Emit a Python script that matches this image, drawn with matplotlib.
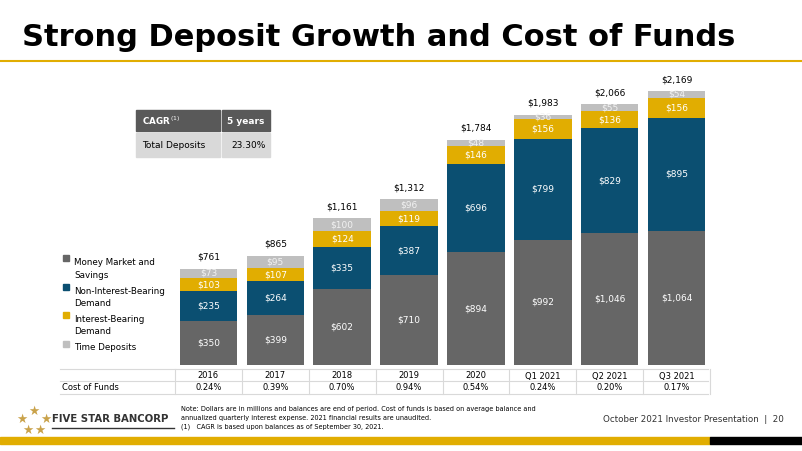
import matplotlib
matplotlib.use("Agg")
import matplotlib.pyplot as plt
from matplotlib.patches import Rectangle
from matplotlib.lines import Line2D

periods = ["2016", "2017", "2018", "2019", "2020", "Q1 2021", "Q2 2021", "Q3 2021"]
money_market = [350, 399, 602, 710, 894, 992, 1046, 1064]
non_interest = [235, 264, 335, 387, 696, 799, 829, 895]
interest_bearing = [103, 107, 124, 119, 146, 156, 136, 156]
time_deposits = [73, 95, 100, 96, 48, 36, 55, 54]
totals = ["$761", "$865", "$1,161", "$1,312", "$1,784", "$1,983", "$2,066", "$2,169"]
cost_of_funds = ["0.24%", "0.39%", "0.70%", "0.94%", "0.54%", "0.24%", "0.20%", "0.17%"]
series_names = ["Money Market and\nSavings", "Non-Interest-Bearing\nDemand",
                "Interest-Bearing\nDemand", "Time Deposits"]
colors = ["#666666", "#0B4F71", "#E1AD01", "#BFBFBF"]

W, H = 803, 451
fig = plt.figure(figsize=(W / 100, H / 100), dpi=100)
plt.rcParams["font.family"] = "DejaVu Sans"

def px(x0, y0, x1, y1):
    return [x0 / W, 1 - y1 / H, (x1 - x0) / W, (y1 - y0) / H]

# title and rules
fig.text(22 / W, 1 - 38 / H, "Strong Deposit Growth and Cost of Funds", fontsize=22,
         fontweight="bold", color="black", va="center")
fig.add_artist(Line2D([0, 1], [1 - 61 / H] * 2, color="#E1AD01", lw=1.5))
fig.add_artist(Rectangle((0, 1 - 444 / H), 710 / W, 7 / H, color="#E1AD01", transform=fig.transFigure))
fig.add_artist(Rectangle((710 / W, 1 - 444 / H), 93 / W, 7 / H, color="black", transform=fig.transFigure))

ax = fig.add_axes(px(175, 75, 710, 365))
x = range(len(periods))
bottom = [0] * len(periods)
for vals, c in zip([money_market, non_interest, interest_bearing, time_deposits], colors):
    ax.bar(x, vals, bottom=bottom, width=0.86, color=c)
    for i, v in enumerate(vals):
        ax.text(i, bottom[i] + v / 2, f"${v:,}", ha="center", va="center",
                fontsize=6.5, color="white" if c != "#BFBFBF" else "#F2F2F2")
    bottom = [b + v for b, v in zip(bottom, vals)]
for i, t in enumerate(totals):
    ax.text(i, bottom[i] + 55, t, ha="center", va="bottom", fontsize=6.5)
ax.set_xlim(-0.5, 7.5)
ax.set_ylim(0, 2296)
ax.axis("off")

# legend
for k, (name, c) in enumerate(zip(series_names, colors)):
    y = 258 + k * 28.5
    fig.add_artist(Rectangle((63 / W, 1 - (y + 3) / H), 6 / W, 6 / H, color=c, transform=fig.transFigure))
    fig.text(74 / W, 1 - y / H, name, fontsize=6.3, va="top", linespacing=1.5)

# CAGR table
fig.add_artist(Rectangle((136 / W, 1 - 131 / H), 84 / W, 21 / H, color="#595959", transform=fig.transFigure))
fig.add_artist(Rectangle((222 / W, 1 - 131 / H), 48 / W, 21 / H, color="#595959", transform=fig.transFigure))
fig.add_artist(Rectangle((136 / W, 1 - 157 / H), 84 / W, 24 / H, color="#D9D9D9", transform=fig.transFigure))
fig.add_artist(Rectangle((222 / W, 1 - 157 / H), 48 / W, 24 / H, color="#D9D9D9", transform=fig.transFigure))
fig.text(142 / W, 1 - 121 / H, r"CAGR$^{\,(1)}$", fontsize=6.3, color="white", fontweight="bold", va="center")
fig.text(227 / W, 1 - 121 / H, "5 years", fontsize=6.5, color="white", fontweight="bold", va="center")
fig.text(142 / W, 1 - 145 / H, "Total Deposits", fontsize=6.5, va="center")
fig.text(266 / W, 1 - 145 / H, "23.30%", fontsize=6.5, va="center", ha="right")

# cost of funds table
for yy in [369, 381, 394]:
    fig.add_artist(Line2D([60 / W, 708 / W], [1 - yy / H] * 2, color="#D9D9D9", lw=0.8))
for i in range(9):
    xx = 175 + i * 66.9
    fig.add_artist(Line2D([xx / W] * 2, [1 - 369 / H, 1 - 394 / H], color="#D9D9D9", lw=0.8))
fig.text(62 / W, 1 - 388 / H, "Cost of Funds", fontsize=6, va="center")
for i, (p, c) in enumerate(zip(periods, cost_of_funds)):
    xx = (175 + (i + 0.5) * 66.9) / W
    fig.text(xx, 1 - 376 / H, p, fontsize=6, ha="center", va="center")
    fig.text(xx, 1 - 388 / H, c, fontsize=6, ha="center", va="center")

# footer
for sx, sy in [(34, 411), (22, 419), (46, 419), (28, 430), (40, 430)]:
    fig.text(sx / W, 1 - sy / H, "★", fontsize=9, color="#C9A24A", ha="center", va="center")
fig.text(52 / W, 1 - 419 / H, "FIVE STAR BANCORP", fontsize=7.3, fontweight="bold", color="#333333", va="center")
fig.add_artist(Line2D([52 / W, 174 / W], [1 - 428 / H] * 2, color="#333333", lw=1))
fig.text(181 / W, 1 - 406 / H,
         "Note: Dollars are in millions and balances are end of period. Cost of funds is based on average balance and\n"
         "annualized quarterly interest expense. 2021 financial results are unaudited.\n"
         "(1)   CAGR is based upon balances as of September 30, 2021.",
         fontsize=4.7, va="top", linespacing=1.6)
fig.text(784 / W, 1 - 420 / H, "October 2021 Investor Presentation  |  20", fontsize=6.3,
         ha="right", va="center", color="#333333")

fig.savefig("out.png", dpi=100)
